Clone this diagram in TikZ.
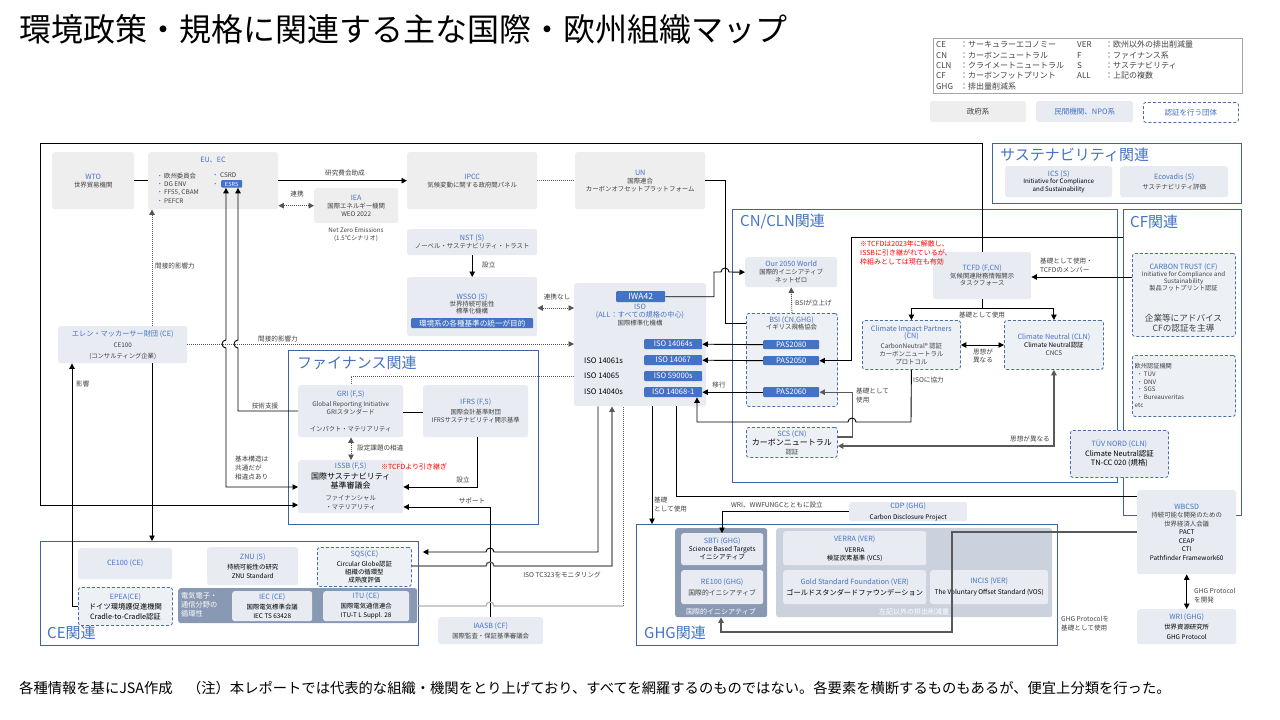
\documentclass[tikz,border=0pt]{standalone}
\usepackage{fontspec}
\setmainfont{Noto Sans CJK JP}
\usetikzlibrary{arrows.meta}
\definecolor{govc}{HTML}{EEEEEE}
\definecolor{npoc}{HTML}{E8ECF2}
\definecolor{certc}{HTML}{EDF0F5}
\definecolor{dashc}{HTML}{4A6FA5}
\definecolor{namec}{HTML}{4472C4}
\definecolor{txtc}{HTML}{404040}
\definecolor{secc}{HTML}{3F62A0}
\definecolor{pillc}{HTML}{4472C4}
\definecolor{grpd}{HTML}{8A99B3}
\definecolor{grpl}{HTML}{CCD2DD}
\definecolor{lgray}{HTML}{595959}
\definecolor{dotc}{HTML}{555555}
\definecolor{redc}{HTML}{FF0000}
\definecolor{legc}{HTML}{A6A6A6}
\newcommand\fsz[2]{\fontsize{#1}{#2}\selectfont}
\newcommand\nm[1]{{\color{namec}\fsz{7.2}{8.4}#1}}
\newcommand\bk[1]{{\color{black}#1}}
\newcommand\bx[7]{\node[#2,anchor=north west,minimum width={(#5-#3)*1pt},minimum height={(#6-#4)*1pt}] (#1) at (#3,#4) {#7};}
\tikzset{
 bbase/.style={rounded corners=2.5pt,inner sep=0.5pt,align=center,font=\fsz{6.4}{8},text=txtc},
 govbox/.style={bbase,fill=govc},
 npobox/.style={bbase,fill=npoc},
 certbox/.style={bbase,fill=certc,draw=dashc,line width=0.8pt,dash pattern=on 3pt off 2pt},
 pillbox/.style={fill=pillc,text=white,inner sep=0pt,rounded corners=1pt,font=\fsz{7.6}{8}},
 secbox/.style={draw=secc,line width=0.9pt,inner sep=0pt},
 sectitle/.style={font=\fsz{15}{16},text=namec,anchor=west,inner sep=0pt},
 lbl/.style={font=\fsz{6.6}{8.4},text=txtc,inner sep=0pt,align=left},
 lnk/.style={line width=0.9pt,draw=black},
 lnkg/.style={line width=1.3pt,draw=lgray},
 tip/.style={-{Triangle[length=5.5pt,width=5.5pt]}},
 tips/.style={{Triangle[length=5.5pt,width=5.5pt]}-{Triangle[length=5.5pt,width=5.5pt]}},
 dots/.style={dash pattern=on 1pt off 1pt,draw=dotc}
}
\begin{document}
\begin{tikzpicture}[x=1pt,y=-1pt]
\useasboundingbox (0,0) rectangle (1280,720);
\fill[white] (0,0) rectangle (1280,720);

% title
\node[anchor=west,inner sep=0pt,font=\fsz{32}{35}] (title) at (19,29) {環境政策・規格に関連する主な国際・欧州組織マップ};

% legend
\bx{lgbox}{draw=legc,line width=0.6pt,inner sep=0pt}{933}{38}{1242}{93}{}
\node[anchor=north west,inner sep=0pt,font=\fsz{8}{10.3},text=txtc] (lgt) at (936,40.5) {\begin{tabular}{@{}p{24pt}@{}p{117pt}@{}p{28pt}@{}l@{}}
CE & ：サーキュラーエコノミー & VER & ：欧州以外の排出削減量\\
CN & ：カーボンニュートラル & F & ：ファイナンス系\\
CLN & ：クライメートニュートラル & S & ：サステナビリティ\\
CF & ：カーボンフットプリント & ALL & ：上記の複数\\
GHG & ：排出量削減系 & & \\
\end{tabular}};
\bx{lg1}{govbox,font=\fsz{7.5}{8}}{930}{101}{1026}{122}{政府系}
\bx{lg2}{npobox,font=\fsz{7.5}{8},text=namec}{1036}{101}{1133}{122}{民間機関、NPO系}
\bx{lg3}{certbox,fill=white,font=\fsz{7.5}{8},text=namec}{1143}{102}{1238}{122}{認証を行う団体}

% sections
\bx{susbox}{secbox}{992}{143}{1241}{203}{}
\bx{cnbox}{secbox}{732}{209}{1117}{482}{}
\bx{cfbox}{secbox}{1123}{209}{1241}{515}{}
\bx{finbox}{secbox}{288}{350}{538}{524}{}
\bx{cebox}{secbox}{40}{541}{418}{645}{}
\bx{ghgbox}{secbox}{636}{524}{1057}{645}{}
\node[sectitle] (st1) at (1000,155) {サステナビリティ関連};
\node[sectitle] (st2) at (740,222) {CN/CLN関連};
\node[sectitle] (st3) at (1130,222) {CF関連};
\node[sectitle] (st4) at (297,363) {ファイナンス関連};
\node[sectitle] (st5) at (47,633) {CE関連};
\node[sectitle] (st6) at (644,633) {GHG関連};

% top row
\bx{wto}{govbox}{52}{152}{134}{209}{\nm{WTO}\\世界貿易機関}
\bx{eu}{govbox}{148}{152}{278}{209}{}
\node[inner sep=0pt,font=\fsz{7.2}{8},text=namec] (eut) at (213,160) {EU、EC};
\node[lbl,anchor=west,font=\fsz{6.4}{8.4}] (eul) at (156.5,188) {{\color{namec}・}\hspace{1pt}欧州委員会\\{\color{namec}・}\hspace{1pt}DG ENV\\{\color{namec}・}\hspace{1pt}FF55, CBAM\\{\color{namec}・}\hspace{1pt}PEFCR};
\node[lbl,anchor=west,font=\fsz{6.4}{8.4}] (eul2) at (212,179.5) {{\color{namec}・}\hspace{1.5pt}CSRD\\{\color{namec}・}};
\bx{esrs}{pillbox,font=\fsz{5.6}{6}}{221}{180}{242}{187.5}{ESRS}
\bx{iea}{govbox}{314}{188}{398}{223}{\nm{IEA}\\国際エネルギー機関\\WEO 2022}
\node[lbl,align=center,font=\fsz{6.2}{7.6}] (ieat) at (356,234.5) {Net Zero Emissions\\(1.5℃シナリオ)};
\bx{ipcc}{govbox}{407}{152}{537}{209}{\nm{IPCC}\\気候変動に関する政府間パネル}
\bx{un}{govbox}{575}{152}{705}{209}{\nm{UN}\\国際連合\\カーボンオフセットプラットフォーム}
\bx{nst}{npobox}{407}{229}{537}{255}{\nm{NST (S)}\\ノーベル・サステナビリティ・トラスト}
\bx{wsso}{npobox}{407}{277}{537}{336}{}
\node[lbl,align=center,font=\fsz{6.4}{7}] (wssot) at (472,303.5) {\nm{WSSO (S)}\\世界持続可能性\\標準化機構};
\bx{wssop}{pillbox,font=\fsz{7.6}{8}}{411}{318}{533}{328}{環境系の各種基準の統一が目的}

% ISO
\bx{iso}{npobox}{574}{283}{706}{406}{}
\bx{iwa}{pillbox,font=\fsz{8.5}{9}}{616}{291}{665}{302}{IWA42}
\node[lbl,align=center,font=\fsz{6.4}{8}] (isot) at (640,315.5) {\nm{ISO}\\\nm{(ALL：すべての規格の中心)}\\国際標準化機構};
\bx{p14064}{pillbox}{644}{339}{702}{349}{ISO 14064s}
\bx{p14067}{pillbox}{644}{355}{702}{365}{ISO 14067}
\bx{p59000}{pillbox}{644}{371}{702}{381}{ISO 59000s}
\bx{p14068}{pillbox}{644}{387}{702}{397}{ISO 14068-1}
\node[lbl,anchor=west,font=\fsz{7.6}{8},text=black] (iso1) at (584,361) {ISO 14061s};
\node[lbl,anchor=west,font=\fsz{7.6}{8},text=black] (iso2) at (584,376) {ISO 14065};
\node[lbl,anchor=west,font=\fsz{7.6}{8},text=black] (iso3) at (584,392) {ISO 14040s};

% Ellen
\bx{ellen}{npobox,font=\fsz{6.3}{11}}{58}{326}{187}{363}{\nm{エレン・マッカーサー財団 (CE)}\\CE100\\(コンサルティング企業)}

% finance
\bx{gri}{npobox,font=\fsz{6.3}{7.5}}{298}{385}{403}{437}{\nm{GRI (F,S)}\\[3pt]Global Reporting Initiative\\GRIスタンダード\\[10pt]インパクト・マテリアリティ}
\bx{ifrs}{npobox,font=\fsz{6.3}{8.5}}{423}{385}{528}{437}{\nm{IFRS (F,S)}\\[1pt]国際会計基準財団\\IFRSサステナビリティ開示基準}
\bx{issb}{npobox,font=\fsz{6.3}{9}}{298}{460}{403}{513}{\nm{ISSB (F,S)}\\[2pt]\bk{\fsz{8}{9}国際サステナビリティ}\\\bk{\fsz{8}{9}基準審議会}\\[3pt]ファイナンシャル\\・マテリアリティ}
\node[lbl,anchor=west,text=redc,font=\fsz{7}{8}] (issbn) at (381,467) {※TCFDより引き継ぎ};

% CN/CLN
\bx{our}{npobox}{745}{257}{837}{287}{\nm{Our 2050 World}\\国際的イニシアティブ\\ネットゼロ}
\bx{bsi}{certbox}{746}{313}{837}{406}{}
\node[lbl,align=center,font=\fsz{6.4}{7.2}] (bsit) at (791.5,323.5) {\nm{BSI (CN,GHG)}\\イギリス規格協会};
\bx{pas2080}{pillbox}{763}{340}{819}{349}{PAS2080}
\bx{pas2050}{pillbox}{763}{356}{819}{365}{PAS2050}
\bx{pas2060}{pillbox}{763}{387}{819}{397}{PAS2060}
\bx{scs}{certbox,font=\fsz{6.4}{9}}{746}{427}{837}{457}{\nm{SCS (CN)}\\\bk{\fsz{8}{9}カーボンニュートラル}\\認証}
\bx{tcfd}{npobox,font=\fsz{6.4}{7.5}}{933}{252}{1031}{299}{\nm{TCFD (F,CN)}\\気候関連財務情報開示\\タスクフォース}
\node[lbl,anchor=west,text=redc,font=\fsz{7}{9}] (tcfdn) at (860,253) {※TCFDは2023年に解散し、\\ISSBに引き継がれているが、\\枠組みとしては現在も有効};
\bx{cip}{certbox,font=\fsz{6.4}{7.8}}{862}{320}{960}{369}{\nm{Climate Impact Partners}\\\nm{(CN)}\\[2pt]CarbonNeutral® 認証\\カーボンニュートラル\\プロトコル}
\bx{cnl}{certbox,font=\fsz{6.4}{8}}{1004}{320}{1103}{369}{\nm{Climate Neutral (CLN)}\\\bk{Climate Neutral認証}\\CNCS}
\bx{tuv}{certbox,fill=npoc,font=\fsz{7.4}{9.5}}{1070}{430}{1168}{477}{\nm{TÜV NORD (CLN)}\\\bk{Climate Neutral認証}\\\bk{TN-CC 020 (規格)}}

% sustainability / CF
\bx{ics}{npobox,font=\fsz{6.2}{7.5}}{1005}{166}{1112}{197}{\nm{ICS (S)}\\\bk{Initiative for Compliance}\\\bk{and Sustainability}}
\bx{eco}{npobox,font=\fsz{6.4}{10.5}}{1120}{166}{1228}{197}{\nm{Ecovadis (S)}\\サステナビリティ評価}
\bx{ct}{certbox}{1132}{253}{1235}{336}{}
\node[lbl,align=center,font=\fsz{6.2}{7}] (ctt) at (1183.5,277) {\nm{CARBON TRUST (CF)}\\Initiative for Compliance and\\Sustainability\\製品フットプリント認証};
\node[lbl,align=center,font=\fsz{8.6}{10.5}] (ctt2) at (1183.5,323) {企業等にアドバイス\\CFの認証を主導};
\bx{eucert}{certbox}{1132}{355}{1235}{416}{}
\node[lbl,anchor=west,font=\fsz{6.2}{7.7}] (eucertt) at (1134.5,385.5) {欧州認証機関\\\hspace{2pt}{\color{namec}・}\hspace{1pt}TÜV\\\hspace{2pt}{\color{namec}・}\hspace{1pt}DNV\\\hspace{2pt}{\color{namec}・}\hspace{1pt}SGS\\\hspace{2pt}{\color{namec}・}\hspace{1pt}Bureauveritas\\etc};

% GHG
\bx{cdp}{npobox,font=\fsz{6.4}{10.5}}{849}{502}{967}{521}{\nm{CDP (GHG)}\\\bk{Carbon Disclosure Project}}
\bx{sbtig}{bbase,fill=grpd}{675}{528}{767}{617}{}
\bx{verg}{bbase,fill=grpl}{776}{528}{1052}{617}{}
\node[inner sep=0pt,font=\fsz{7}{8},text=white] (sbtigl) at (721,611.5) {国際的イニシアティブ};
\node[inner sep=0pt,font=\fsz{7}{8},text=white] (vergl) at (914,611.5) {左記以外の排出削減量};
\bx{sbti}{npobox,font=\fsz{6.5}{8}}{681}{533}{763}{565}{\nm{SBTi (GHG)}\\\bk{Science Based Targets}\\\bk{イニシアティブ}}
\bx{re100}{npobox,font=\fsz{6.8}{9}}{681}{570}{763}{604}{\nm{RE100 (GHG)}\\[2pt]国際的イニシアティブ}
\bx{verra}{npobox,font=\fsz{6.4}{8}}{783}{531}{926}{565}{\nm{VERRA (VER)}\\[3pt]\bk{VERRA}\\\bk{検証炭素基準 (VCS)}}
\bx{gold}{npobox,font=\fsz{7.2}{9}}{783}{570}{926}{604}{\nm{Gold Standard Foundation (VER)}\\[2pt]\bk{ゴールドスタンダードファウンデーション}}
\bx{incis}{npobox,font=\fsz{6.5}{9}}{930}{570}{1048}{604}{\nm{INCIS (VER)}\\[2pt]\bk{The Voluntary Offset Standard (VOS)}}
\bx{wbcsd}{npobox,font=\fsz{6.4}{8.5}}{1137}{490}{1236}{574}{\nm{WBCSD}\\持続可能な開発のための\\世界経済人会議\\\bk{PACT}\\\bk{CEAP}\\\bk{CTI}\\\bk{Pathfinder Framework60}}
\bx{wri}{npobox,font=\fsz{6.4}{10}}{1137}{609}{1236}{644}{\nm{WRI (GHG)}\\\bk{世界資源研究所}\\\bk{GHG Protocol}}

% CE
\bx{ce100}{npobox}{78}{548}{172}{579}{\nm{CE100 (CE)}}
\bx{znu}{npobox,font=\fsz{6.4}{9.5}}{207}{547}{298}{585}{\nm{ZNU (S)}\\\bk{持続可能性の研究}\\\bk{ZNU Standard}}
\bx{sqs}{certbox,font=\fsz{6.4}{8}}{317}{547}{411}{586}{\nm{SQS(CE)}\\[2pt]\bk{Circular Globe認証}\\\bk{組織の循環型}\\\bk{成熟度評価}}
\bx{epea}{certbox,font=\fsz{7.3}{9.5}}{78}{587}{172}{625}{\nm{EPEA(CE)}\\[1pt]\bk{ドイツ環境護促進機関}\\\bk{Cradle-to-Cradle認証}}
\bx{elgrp}{bbase,fill=grpd}{178}{588}{417}{623}{}
\node[lbl,anchor=west,text=white,font=\fsz{7.2}{9}] (elgrpl) at (181,604.5) {電気電子・\\通信分野の\\循環性};
\bx{iec}{npobox,font=\fsz{6.4}{9.5}}{232}{591}{312}{621}{\nm{IEC (CE)}\\\bk{国際電気標準会議}\\\bk{IEC TS 63428}}
\bx{itu}{npobox,font=\fsz{6.4}{9.5}}{323}{591}{409}{621}{\nm{ITU (CE)}\\\bk{国際電気通信連合}\\\bk{ITU-T L Suppl. 28}}
\bx{iaasb}{npobox,font=\fsz{6.4}{10.5}}{438}{617}{543}{644}{\nm{IAASB (CF)}\\国際監査・保証基準審議会}

% ---------- connectors ----------
\draw[lnk] (wto.east) -- (eu.west);
\draw[lnk,tip] (eu.east) -- (ipcc.west);
\node[lbl] (l1) at (345,173) {研究費会助成};
\draw[lnk,dots,tips] (eu.east |- iea.west) -- (iea.west);
\node[lbl] (l2) at (297,194) {連携};
\draw[lnk,dots] (ipcc.east) -- (un.west);
\draw[lnk] (un.east) -| (725,323) -- (bsi.west |- 0,323);
\draw[lnk,tip] (iwa.east) -| (714,272) -- (721,272) arc[start angle=180,end angle=0,radius=4pt] -- (our.west);
\draw[lnk,dots,tip] (bsi.north) -- (our.south);
\node[lbl,anchor=west] (l3) at (795,303) {BSIが立上げ};
\draw[lnk,tip] (nst.south) -- (wsso.north);
\node[lbl,anchor=west] (l4) at (482,265) {設立};
\draw[lnk,dots,tips] (wsso.east |- 0,308) -- (iso.west |- 0,308);
\node[lbl] (l5) at (557,297) {連携なし};
\draw[lnk,dots,tip] (ellen.east |- 0,344) -- (iso.west |- 0,344);
\node[lbl] (l6) at (278,339) {間接的影響力};
\draw[lnk,dots,tip] (ellen.north -| 152,0) -- (eu.south -| 152,0);
\node[lbl,anchor=west] (l7) at (155,266) {間接的影響力};
\draw[lnk,dots] (iso.west |- 0,376) -- (351,376) -- (gri.north -| 351,0);
\draw[lnk,tips] (esrs.south -| 226,0) -- (226,340) arc[start angle=90,end angle=270,radius=4pt] -- (226,487) -- (issb.west |- 0,487);
\node[lbl,anchor=north west,font=\fsz{6.6}{9}] (l8) at (235,456) {基本構造は\\共通だが\\相違点あり};
\draw[lnk,tip] (gri.west |- 0,411) -- (238,411) -- (238,348) arc[start angle=270,end angle=90,radius=4pt] -- (esrs.south -| 238,0);
\node[lbl] (l9) at (265,406) {技術支援};
\draw[lnk,tip] (tcfd.north) -- (tcfd.north |- 0,143) -- (40,143) -- (40,505) -- (issb.west |- 0,505);
\draw[lnk,dots,tips] (gri.south -| 351,0) -- (issb.north -| 351,0);
\node[lbl,anchor=west] (l10) at (357,448) {設定課題の相違};
\draw[lnk] (gri.east |- 0,412) -- (ifrs.west |- 0,412);
\draw[lnk,tip] (ifrs.south -| 477,0) |- (issb.east |- 0,487);
\node[lbl] (l11) at (463,480) {設立};
\draw[lnk,tip] (iaasb.north -| 490,0) -- (490,507) -- (issb.east |- 0,507);
\node[lbl] (l12) at (472,501) {サポート};
\draw[lnk,tip,shorten >=11pt] (iso.south -| 598,0) -- (598,552) -- (494,552) arc[start angle=0,end angle=180,radius=4pt] -- (sqs.east |- 0,552);
\draw[lnkg,tip] (sqs.east |- 0,566) -- (486,566) arc[start angle=180,end angle=0,radius=4pt] -- (612,566) -- (iso.south -| 612,0);
\node[lbl] (l13) at (562,575) {ISO TC323をモニタリング};
\draw[line width=1.2pt,draw=gray!60] (elgrp.east |- 0,606) -- (486,606) arc[start angle=180,end angle=0,radius=4pt] -- (623,606);
\draw[lnk,dots] (623,606) -- (iso.south -| 623,0);
\draw[lnk,tip] (iso.south -| 652,0) -- (ghgbox.north -| 652,0);
\node[lbl,anchor=north west] (l14) at (654,497) {基礎\\として使用};
\draw[lnk] (iso.south -| 676,0) |- (wbcsd.west |- 0,496);
\draw[lnk,tip] (pas2080.west) -- (p14064.east);
\draw[lnk,tip] (pas2050.west) -- (p14067.east);
\draw[lnk,tip] (pas2060.west) -- (p14068.east);
\node[lbl] (l15) at (719,385) {移行};
\draw[lnk,tip] (cfbox.west |- 0,237) -| ([xshift=32pt]pas2050.east) -- (pas2050.east);
\draw[lnkg,tip] (scs.east |- 0,437) -| ([xshift=33pt]pas2060.east) -- (pas2060.east);
\node[lbl,anchor=north west] (l16) at (856,388) {基礎として\\使用};
\draw[lnk,tip] (cip.south) -- (911,422) -- (856,422) arc[start angle=0,end angle=180,radius=4pt] -- (697,422) -- (p14068.south -| 697,0);
\node[lbl,anchor=west] (l17) at (913,380) {ISOに協力};
\draw[lnk,tip] (tcfd.south) -- (tcfd.south |- 0,308) -| (cip.north);
\draw[lnk,tip] (tcfd.south |- 0,308) -| (cnl.north);
\node[lbl] (l18) at (982,315) {基礎として使用};
\draw[lnk,tips] (cip.east |- 0,345) -- (cnl.west |- 0,345);
\node[lbl] (l19) at (983,356) {思想が\\異なる};
\draw[lnkg,tips] (cnl.south) |- (scs.east |- 0,446);
\node[lbl,anchor=east] (l20) at (1050,439) {思想が異なる};
\draw[lnk,tip] (ct.west |- 0,277) -- (tcfd.east |- 0,277);
\node[lbl,anchor=west] (l21) at (1040,265.5) {基礎として使用・\\TCFDのメンバー};
\draw[lnk,tip] (cdp.west) -| (sbti.north -| 722,0);
\node[lbl] (l22) at (777,505) {WRI、WWFUNGCとともに設立};
\draw[lnkg,tip] (wbcsd.west |- 0,532) -- (952,532) -- (952,632) -- (721,632) -- (sbtig.south -| 721,0);
\node[lbl,anchor=west] (l23) at (1061,623.5) {GHG Protocolを\\基礎として使用};
\draw[lnk,tips] (wbcsd.south) -- (wri.north);
\node[lbl,anchor=west] (l24) at (1194,595.5) {GHG Protocol\\を開発};
\draw[lnk,tip] (ellen.south -| 152,0) -- (cebox.north -| 152,0);
\draw[lnk,tip] (epea.west |- 0,606) -- (72,606) -- (ellen.south -| 72,0);
\node[lbl,anchor=west] (l25) at (76,384) {影響};

% footer
\node[anchor=west,inner sep=0pt,font=\fsz{14.3}{16}] (foot) at (19,688) {各種情報を基にJSA作成　（注）本レポートでは代表的な組織・機関をとり上げており、すべてを網羅するのものではない。各要素を横断するものもあるが、便宜上分類を行った。};
\end{tikzpicture}
\end{document}
